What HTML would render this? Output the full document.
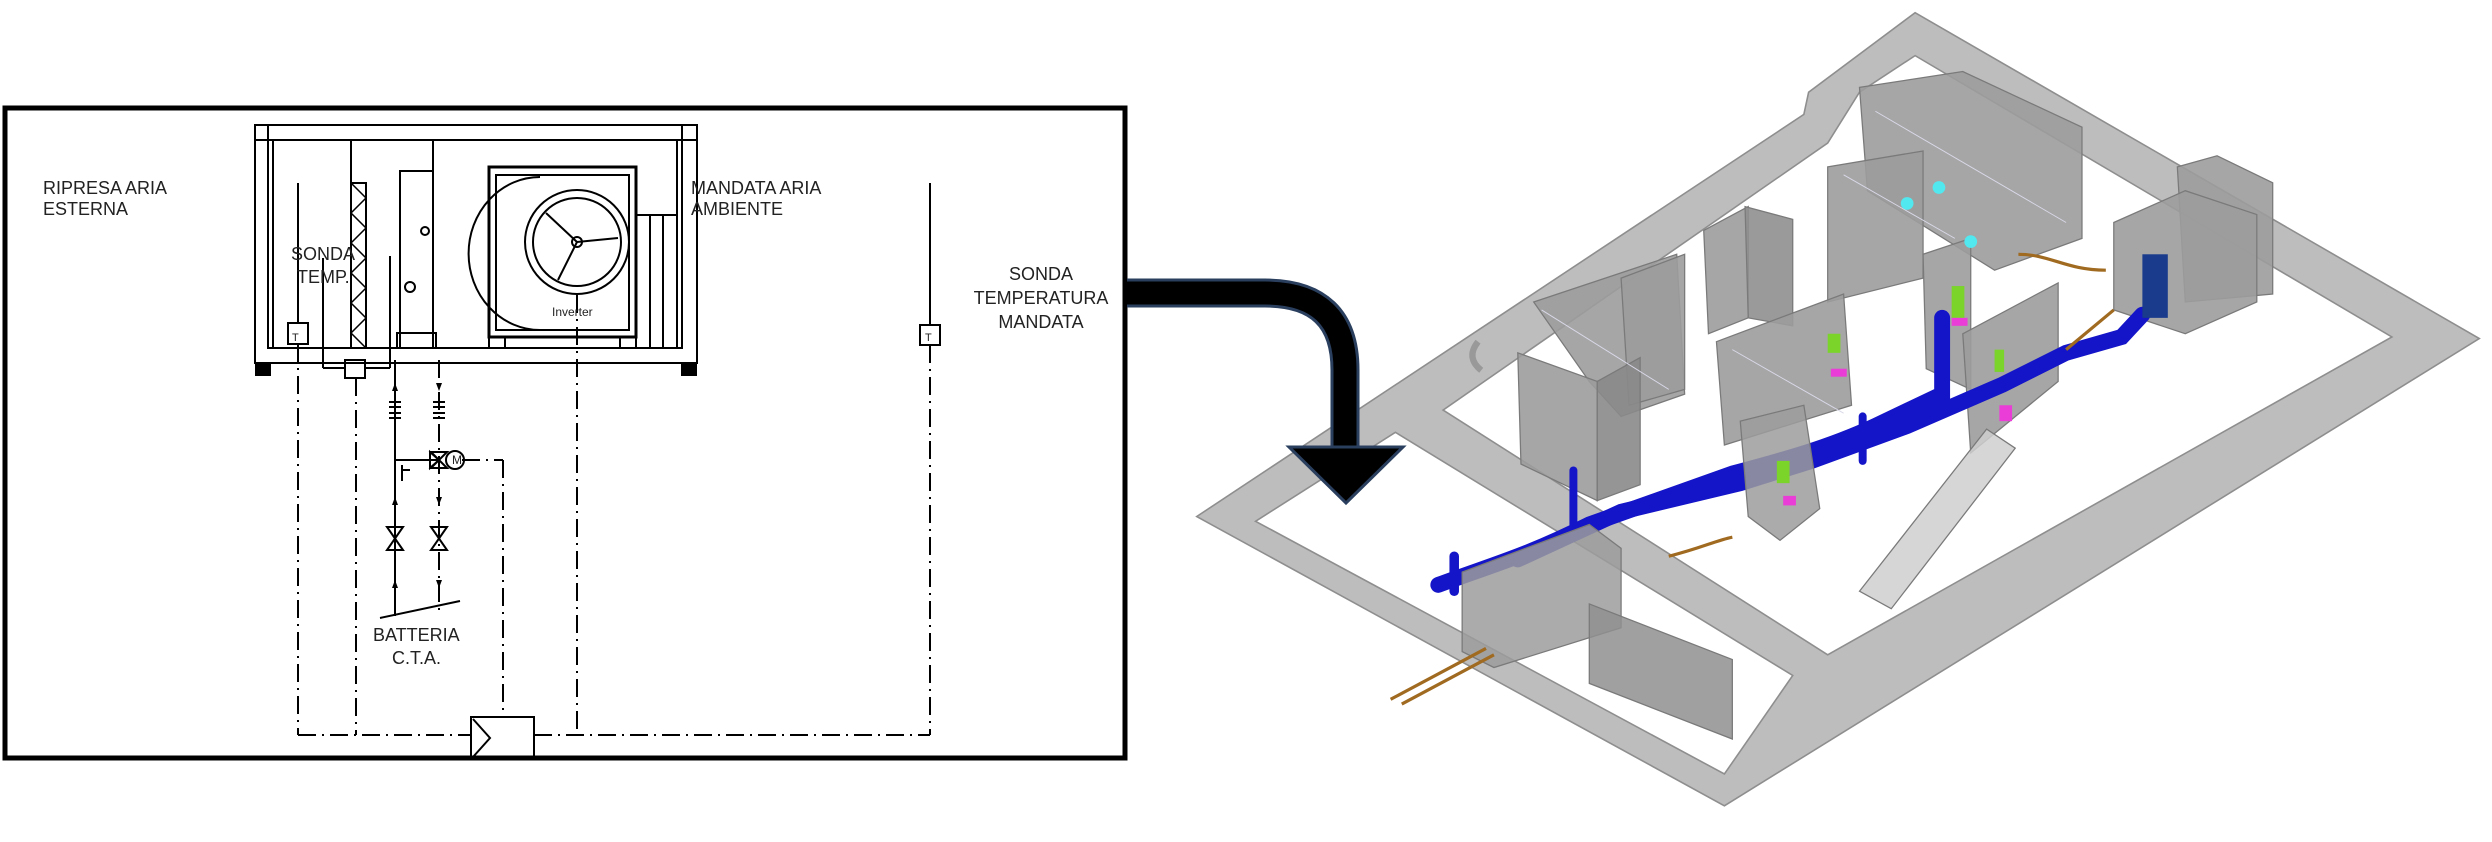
<!DOCTYPE html>
<html><head><meta charset="utf-8"><style>
html,body{margin:0;padding:0;background:#fff;}
svg{display:block;}
text{font-family:"Liberation Sans",sans-serif;fill:#222;}
</style></head><body>
<svg width="2492" height="842" viewBox="0 0 2492 842" xmlns="http://www.w3.org/2000/svg">
<rect x="5" y="108" width="1120" height="650" fill="#fff" stroke="#000" stroke-width="5"/>
<g stroke="#000" stroke-width="2" fill="none">
  <rect x="255" y="125" width="442" height="238"/>
  <line x1="255" y1="140" x2="697" y2="140"/>
  <rect x="268" y="140" width="414" height="208"/>
  <line x1="273" y1="140" x2="273" y2="348"/><line x1="677" y1="140" x2="677" y2="348"/>
  <line x1="268" y1="125" x2="268" y2="140"/><line x1="682" y1="125" x2="682" y2="140"/>
  <line x1="351" y1="140" x2="351" y2="348"/>
  <line x1="433" y1="140" x2="433" y2="348"/>
  <rect x="351" y="183" width="15" height="165"/>
  <polyline points="351,183 366,198 351,213 366,228 351,243 366,258 351,273 366,288 351,303 366,318 351,333 366,348" stroke-width="1.5"/>
  <rect x="400" y="171" width="33" height="177"/>
  <rect x="397" y="333" width="39" height="15"/>
  <circle cx="425" cy="231" r="4"/><circle cx="410" cy="287" r="5"/>
  <rect x="489" y="167" width="147" height="170" stroke-width="3"/>
  <rect x="496" y="175" width="133" height="155"/>
  <path d="M540,177 A70,75 0 0 0 540,330" />
  <circle cx="577" cy="242" r="52"/><circle cx="577" cy="242" r="44"/>
  <circle cx="577" cy="242" r="5"/>
  <line x1="577" y1="242" x2="546" y2="213"/><line x1="577" y1="242" x2="618" y2="238"/><line x1="577" y1="242" x2="558" y2="280"/>
  <rect x="636" y="215" width="41" height="133"/>
  <line x1="650" y1="215" x2="650" y2="348"/><line x1="663" y1="215" x2="663" y2="348"/>
  <line x1="489" y1="337" x2="489" y2="348"/><line x1="505" y1="337" x2="505" y2="348"/><line x1="620" y1="337" x2="620" y2="348"/>
  <line x1="298" y1="183" x2="298" y2="323"/>
  <rect x="288" y="323" width="20" height="21"/>
  <line x1="323" y1="258" x2="323" y2="368"/><line x1="323" y1="368" x2="345" y2="368"/>
  <rect x="345" y="360" width="20" height="18"/>
  <line x1="365" y1="368" x2="390" y2="368"/><line x1="390" y1="368" x2="390" y2="256"/>
  <line x1="930" y1="183" x2="930" y2="325"/>
  <rect x="920" y="325" width="20" height="20"/>
  <g stroke-dasharray="18,6,2,6">
    <line x1="298" y1="344" x2="298" y2="735"/>
    <line x1="356" y1="378" x2="356" y2="735"/>
    <line x1="577" y1="295" x2="577" y2="735"/>
    <line x1="930" y1="345" x2="930" y2="735"/>
    <line x1="298" y1="735" x2="471" y2="735"/>
    <line x1="534" y1="735" x2="930" y2="735"/>
    <line x1="439" y1="360" x2="439" y2="610"/>
    <line x1="462" y1="460" x2="503" y2="460"/>
    <line x1="503" y1="460" x2="503" y2="717"/>
  </g>
  <rect x="471" y="717" width="63" height="42"/>
  <polyline points="473,719 490,738 473,757"/>
  <line x1="395" y1="360" x2="395" y2="616"/>
  <line x1="395" y1="460" x2="440" y2="460"/>
  <line x1="380" y1="618" x2="460" y2="601"/>
  <circle cx="455" cy="460" r="9"/>
  <path d="M389,402h12M389,407h12M389,413h12M389,418h12M433,402h12M433,407h12M433,413h12M433,418h12" stroke-width="2"/>
  <path d="M387,527 L403,527 L387,550 L403,550 Z"/>
  <path d="M431,527 L447,527 L431,550 L447,550 Z"/>
  <path d="M431,452 L447,452 L431,468 L447,468 Z"/>
  <path d="M430,452 L430,468 L439,460 Z"/>
  <line x1="402" y1="465" x2="402" y2="481"/><line x1="402" y1="470" x2="410" y2="470"/>
</g>
<g fill="#000">
  <rect x="255" y="363" width="16" height="13"/><rect x="681" y="363" width="16" height="13"/>
  <path d="M395,383 l-3,8 h6z M395,497 l-3,8 h6z M395,580 l-3,8 h6z M439,391 l-3,-8 h6z M439,505 l-3,-8 h6z M439,588 l-3,-8 h6z"/>
</g>
<text x="452" y="464" font-size="12">M</text>
<g font-size="18">
<text x="43" y="194">RIPRESA  ARIA</text>
<text x="43" y="215">ESTERNA</text>
<text x="691" y="194">MANDATA  ARIA</text>
<text x="691" y="215">AMBIENTE</text>
<text x="291" y="260">SONDA</text>
<text x="297" y="283">TEMP.</text>
<text x="1041" y="280" text-anchor="middle">SONDA</text>
<text x="1041" y="304" text-anchor="middle">TEMPERATURA</text>
<text x="1041" y="328" text-anchor="middle">MANDATA</text>
<text x="373" y="641">BATTERIA</text>
<text x="392" y="664">C.T.A.</text>
</g>
<text x="552" y="316" font-size="12">Inverter</text>
<text x="292" y="341" font-size="11" fill="#888">T</text>
<text x="925" y="341" font-size="11" fill="#888">T</text>

<g transform="scale(1.5893)">
  <path fill-rule="evenodd" fill="#bdbdbd" stroke="#8e8e8e" stroke-width="1"
   d="M753,325 L1135,72 L1138,58 L1205,8 L1560,213 L1085,507 Z
      M790,328 L878,272 L1128,425 L1085,487 Z
      M908,258 L1150,412 L1505,212 L1205,35 L1170,58 L1150,90 Z"/>
  <path d="M930,215 q-8,10 2,18" stroke="#999" stroke-width="4" fill="none"/>
  <g fill="#9c9c9c" stroke="#7a7a7a" stroke-width="0.8" fill-opacity="0.9">
    <polygon points="965,190 1055,160 1060,248 1020,262 1000,240"/>
    <polygon points="1020,175 1060,160 1060,245 1025,255"/>
    <polygon points="955,222 1005,240 1005,315 957,292"/>
    <polygon points="1005,240 1032,225 1032,305 1005,315" fill="#8a8a8a"/>
    <polygon points="1072,145 1100,130 1100,200 1075,210"/>
    <polygon points="1098,130 1128,138 1128,205 1100,200" fill="#8f8f8f"/>
    <polygon points="1170,55 1235,45 1310,80 1310,150 1255,170 1175,120"/>
    <polygon points="1150,105 1210,95 1210,175 1150,190"/>
    <polygon points="1080,215 1160,185 1165,255 1085,280"/>
    <polygon points="1210,160 1240,150 1240,245 1212,232"/>
    <polygon points="1235,210 1295,178 1295,240 1240,285"/>
    <polygon points="1370,105 1395,98 1430,115 1430,185 1375,190"/>
    <polygon points="1330,140 1375,120 1420,135 1420,190 1375,210 1330,195"/>
  </g>
  <g fill="none" stroke="#1414c8" stroke-linecap="round">
    <path d="M905,368 C940,355 960,350 1000,330 L1090,298 C1120,290 1150,282 1180,268 L1222,248 L1222,200" stroke-width="10"/>
    <path d="M955,352 L1020,322 L1095,304 L1140,290 L1200,268 L1260,242 L1300,222 L1335,212 L1348,198" stroke-width="10"/>
    <path d="M990,296 L990,335" stroke-width="5"/>
    <path d="M1172,262 L1172,290" stroke-width="5"/>
    <path d="M915,350 L915,372" stroke-width="6"/>
  </g>
  <g fill="#9c9c9c" stroke="#7a7a7a" stroke-width="0.8" fill-opacity="0.85">
    <polygon points="1095,265 1135,255 1145,320 1120,340 1100,325"/>
    <polygon points="920,360 1000,330 1020,345 1020,395 940,420 920,410"/>
    <polygon points="1000,380 1090,415 1090,465 1000,430" fill="#8f8f8f"/>
    <polygon points="1170,372 1250,270 1268,282 1190,383" fill="#cfcfcf"/>
  </g>
  <g stroke="#d8d8e8" stroke-width="0.6" fill="none">
    <path d="M970,195 L1050,245 M1160,110 L1230,150 M1180,70 L1300,140 M1090,220 L1160,260"/>
  </g>
  <g fill="#7ad42a"><rect x="1150" y="210" width="8" height="12"/><rect x="1228" y="180" width="8" height="20"/><rect x="1255" y="220" width="6" height="14"/><rect x="1118" y="290" width="8" height="14"/></g>
  <g fill="#ea3cd6"><rect x="1152" y="232" width="10" height="5"/><rect x="1228" y="200" width="10" height="5"/><rect x="1258" y="255" width="8" height="10"/><rect x="1122" y="312" width="8" height="6"/></g>
  <g fill="#52e8f0"><circle cx="1200" cy="128" r="4"/><circle cx="1220" cy="118" r="4"/><circle cx="1240" cy="152" r="4"/></g>
  <rect x="1348" y="160" width="16" height="40" fill="#1a3b8c"/>
  <g stroke="#a06a20" stroke-width="2" fill="none">
    <path d="M1270,160 C1290,160 1300,170 1325,170"/>
    <path d="M1300,220 L1330,195"/>
    <path d="M875,440 L935,408"/><path d="M882,443 L940,412"/>
    <path d="M1050,350 C1070,345 1080,340 1090,338"/>
  </g>
</g>

<path d="M1127,293 L1265,293 Q1345,293 1345,370 L1345,450" fill="none" stroke="#2a3f5e" stroke-width="29"/>
<path d="M1127,293 L1265,293 Q1345,293 1345,370 L1345,452" fill="none" stroke="#000" stroke-width="23"/>
<polygon points="1289,447 1403,447 1346,503" fill="#000" stroke="#2a3f5e" stroke-width="3"/>
</svg>
</body></html>
